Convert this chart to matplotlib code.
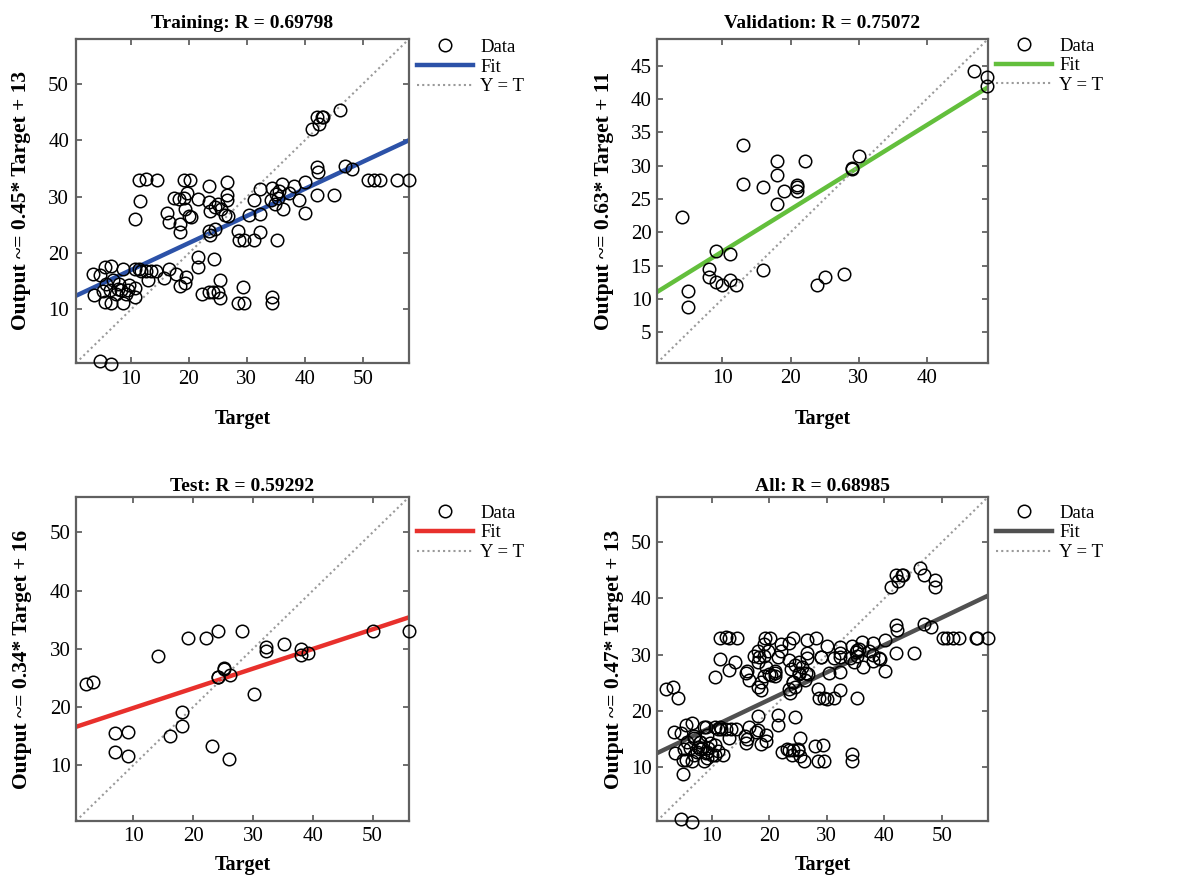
import matplotlib
matplotlib.use("Agg")
import matplotlib.pyplot as plt
from matplotlib.lines import Line2D

plt.rcParams['font.family'] = ['Liberation Serif', 'DejaVu Serif']

# values (target, output)
train_target = [11.4, 12.5, 14.4, 19.2, 20.2, 26.5, 50.9, 52.0, 53.0, 55.9, 58.0,
                11.5, 10.6, 23.4, 26.5, 26.6, 21.5, 16.2, 16.5, 17.4, 18.2, 19.1, 19.7,
                18.5, 18.5, 19.4, 20.0, 20.3, 23.5, 23.7, 24.5, 25.1, 25.6, 23.5, 23.6,
                24.5, 26.3, 26.7, 28.4, 28.6, 29.5, 30.3, 31.3, 31.3, 32.3, 32.3, 32.3,
                34.1, 34.4, 35.0, 35.3, 35.6, 34.8, 35.2, 36.1, 36.3, 37.3, 38.1, 39.0,
                40.1, 40.1, 42.1, 42.2, 42.1, 45.1, 46.9, 48.1, 41.2, 42.1, 42.4, 43.0,
                43.2, 46.1,
                21.6, 21.5, 24.4, 25.3, 22.2, 23.4, 24.2, 25.0, 25.3, 28.4, 29.5, 29.3,
                34.3, 34.4, 4.6, 6.6,
                16.5, 17.7, 15.7, 19.5, 19.4, 18.5, 14.3, 13.4, 13.0, 11.4, 11.7, 10.6, 12.5,
                3.5, 4.7, 3.6, 5.5, 6.6, 5.7, 5.5, 6.6, 6.9, 7.7, 8.6, 8.6, 8.3, 9.1,
                9.7, 9.4, 10.6, 10.6, 7.4, 6.3, 5.2, 8.0]
train_output = [33.0, 33.2, 33.0, 33.0, 33.0, 32.6, 33.0, 33.0, 33.0, 33.0, 33.0,
                29.2, 26.0, 32.0, 30.3, 29.5, 29.6, 27.1, 25.5, 29.7, 29.6, 29.7, 30.6,
                25.2, 23.7, 27.9, 26.6, 26.4, 29.0, 27.5, 28.2, 28.8, 27.9, 24.0, 23.2,
                24.2, 26.7, 26.5, 24.0, 22.3, 22.3, 26.7, 29.5, 22.3, 31.3, 27.0, 23.7,
                29.4, 31.5, 30.5, 29.8, 31.0, 28.8, 22.3, 32.3, 27.9, 30.6, 32.0, 29.5,
                32.6, 27.2, 35.3, 34.4, 30.3, 30.3, 35.5, 35.0, 42.1, 44.2, 43.0, 44.2,
                44.2, 45.4,
                19.3, 17.5, 19.0, 15.2, 12.8, 13.1, 13.1, 13.1, 12.0, 11.1, 11.1, 14.0,
                12.3, 11.1, 0.9, 0.3,
                17.2, 16.3, 15.5, 15.7, 14.7, 14.1, 16.9, 16.9, 15.2, 17.2, 16.8, 17.2, 16.9,
                16.3, 16.2, 12.5, 17.5, 17.8, 14.6, 11.3, 11.1, 15.2, 13.7, 17.2, 11.1, 13.4,
                12.8, 14.3, 13.4, 12.2, 13.9, 12.8, 13.4, 13.2, 14.5]

val_target = [4.1, 5.0, 5.0, 9.0, 8.0, 8.0, 9.0, 10.0, 11.1, 11.1, 12.0, 13.0, 13.0,
              16.0, 16.0, 18.0, 18.0, 18.0, 19.0, 21.0, 21.0, 21.0, 22.1, 23.9, 25.0,
              27.9, 29.0, 29.0, 30.0, 46.9, 48.8, 48.8]
val_output = [22.25, 11.25, 8.8, 17.15, 14.5, 13.25, 12.5, 12.15, 16.8, 12.9, 12.15,
              33.05, 27.25, 26.75, 14.3, 30.65, 28.65, 24.3, 26.25, 27.15, 26.75, 26.15,
              30.75, 12.15, 13.25, 13.75, 29.55, 29.6, 31.5, 44.15, 43.25, 42.0]

test_target = [2.1, 3.2, 7.0, 7.0, 9.1, 9.1, 14.1, 16.1, 18.1, 18.1, 19.1, 22.1, 23.1,
               24.1, 24.1, 24.2, 25.2, 25.2, 26.2, 26.0, 28.1, 30.1, 32.2, 32.2, 35.2,
               38.1, 38.1, 39.2, 50.1, 56.1]
test_output = [23.9, 24.3, 15.6, 12.2, 15.7, 11.6, 28.7, 15.0, 19.1, 16.7, 31.9, 31.9,
               13.3, 33.0, 25.2, 25.1, 26.7, 26.6, 25.5, 11.1, 33.0, 22.2, 30.3, 29.6,
               30.8, 29.9, 28.9, 29.2, 33.0, 33.0]

all_target = train_target + val_target + test_target
all_output = train_output + val_output + test_output

titles = ["Training: R = 0.69798", "Validation: R = 0.75072",
          "Test: R = 0.59292", "All: R = 0.68985"]
ylabels = ["Output ~= 0.45* Target + 13", "Output ~= 0.63* Target + 11",
           "Output ~= 0.34* Target + 16", "Output ~= 0.47* Target + 13"]
# fitted line as it appears in the picture (slope, intercept)
fit_slope = [0.48, 0.632, 0.338, 0.486]
fit_icept = [12.2, 10.8, 16.45, 12.3]
fit_colors = ["#2c52a8", "#63bf3c", "#e8302c", "#505050"]
limits = [(0.5, 58.0), (0.4, 49.0), (0.4, 56.1), (0.5, 58.0)]
yticks = [[10, 20, 30, 40, 50], [5, 10, 15, 20, 25, 30, 35, 40, 45],
          [10, 20, 30, 40, 50], [10, 20, 30, 40, 50]]
xticks = [[10, 20, 30, 40, 50], [10, 20, 30, 40],
          [10, 20, 30, 40, 50], [10, 20, 30, 40, 50]]
datasets = [(train_target, train_output), (val_target, val_output),
            (test_target, test_output), (all_target, all_output)]

positions = [[0.0636, 0.5856, 0.2787, 0.3699], [0.5498, 0.5856, 0.2770, 0.3699],
             [0.0636, 0.0628, 0.2787, 0.3699], [0.5498, 0.0628, 0.2770, 0.3699]]
title_pads = [8, 8, 4, 4]
tick_pads = [5, 4, 4, 4]
xlabel_pads = [14.5, 15.5, 6.5, 6.5]
ylabel_pads = [12.5, 12, 12.5, 4.5]
legend_y = [1.024, 1.028, 1.0, 1.0]

fig = plt.figure(figsize=(11.95, 8.76), dpi=100)

for i in range(4):
    ax = fig.add_axes(positions[i])
    lo, hi = limits[i]
    tx, oy = datasets[i]

    ax.plot(tx, oy, linestyle="none", marker="o", markersize=9, clip_on=False, zorder=3,
            markerfacecolor="none", markeredgecolor="black", markeredgewidth=1.1)
    ax.plot([lo, hi], [fit_slope[i] * lo + fit_icept[i], fit_slope[i] * hi + fit_icept[i]],
            color=fit_colors[i], linewidth=3.2)
    ax.plot([lo, hi], [lo, hi], color="#9a9a9a", linewidth=1.5, linestyle=(0, (1, 1.5)))

    ax.set_xlim(lo, hi)
    ax.set_ylim(lo, hi)
    ax.set_xticks(xticks[i])
    ax.set_yticks(yticks[i])
    ax.tick_params(direction="in", top=True, right=True, length=4, width=1.2,
                   color="#555555", labelsize=15, pad=tick_pads[i])
    for s in ax.spines.values():
        s.set_color("#606060")
        s.set_linewidth(1.6)

    ax.set_title(titles[i], fontsize=14, fontweight="bold", pad=title_pads[i])
    ax.set_xlabel("Target", fontsize=14.5, fontweight="bold", labelpad=xlabel_pads[i])
    ax.set_ylabel(ylabels[i], fontsize=15.5, fontweight="bold", labelpad=ylabel_pads[i])

    handles = [Line2D([], [], linestyle="none", marker="o", markersize=9,
                      markerfacecolor="none", markeredgecolor="black", markeredgewidth=1.1),
               Line2D([], [], color=fit_colors[i], linewidth=3.2),
               Line2D([], [], color="#9a9a9a", linewidth=1.5, linestyle=(0, (1, 1.5)))]
    ax.legend(handles, ["Data", "Fit", "Y = T"], loc="upper left",
              bbox_to_anchor=(1.0, legend_y[i]), frameon=False, fontsize=13.5,
              borderaxespad=0, borderpad=0.4, handlelength=3.0, handletextpad=0.4,
              labelspacing=0.14)

fig.savefig("out.png", dpi=100, facecolor="white")
